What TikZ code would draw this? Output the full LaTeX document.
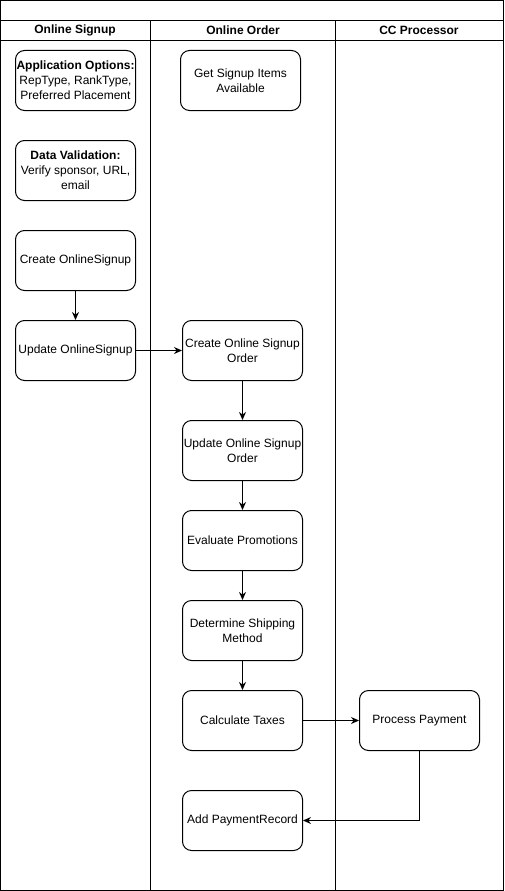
\documentclass[tikz,border=0pt]{standalone}
\usepackage{fontspec}
\setmainfont{Liberation Sans}
\usetikzlibrary{arrows.meta}

\begin{document}
\begin{tikzpicture}[x=1pt, y=-1pt, line width=1pt, >={Stealth[length=8pt, width=7pt]}]
	\tikzstyle{activity} = [rectangle, rounded corners=9pt, minimum width=120pt, minimum height=60pt, inner sep=1pt, draw=black, fill=white, align=center, font=\fontsize{12}{15}\selectfont]
	\tikzstyle{lane}     = [inner sep=0pt, font=\bfseries\fontsize{12}{15}\selectfont]

	\useasboundingbox (0,0) rectangle (504,891);

	% pool frame and lanes
	\draw (0.5,0.5) rectangle (503.5,890.5);
	\draw (0.5,20.5) -- (503.5,20.5);
	\draw (0.5,40.5) -- (503.5,40.5);
	\draw (150.5,20.5) -- (150.5,890.5);
	\draw (335.5,20.5) -- (335.5,890.5);

	\foreach \name/\x/\text in {signup/75/Online Signup, order/243/Online Order, cc/419/CC Processor}
		\node[lane] (\name) at (\x, 30.5) {\text};

	\foreach \name/\x/\y/\text in {
			appopt/75.5/80.5/{\textbf{Application Options:}\\RepType, RankType,\\Preferred Placement},
			valid/75.5/170.5/{\textbf{Data Validation:}\\Verify sponsor, URL,\\email},
			create/75.5/260.5/{Create OnlineSignup},
			update/75.5/350.5/{Update OnlineSignup},
			items/240.5/80.5/{Get Signup Items\\Available},
			neworder/242.5/350.5/{Create Online Signup\\Order},
			updorder/242.5/450.5/{Update Online Signup\\Order},
			promo/242.5/540.5/{Evaluate Promotions},
			ship/242.5/630.5/{Determine Shipping\\Method},
			taxes/242.5/720.5/{Calculate Taxes},
			record/242.5/820.5/{Add PaymentRecord},
			payment/419.5/720.5/{Process Payment}}
		\node[activity] (\name) at (\x, \y) {\text};

	\foreach \from/\to in {create/update, update/neworder, neworder/updorder, updorder/promo, promo/ship, ship/taxes, taxes/payment}
		\path[->] (\from) edge (\to);

	\draw[->] (payment) |- (record);

\end{tikzpicture}
\end{document}
